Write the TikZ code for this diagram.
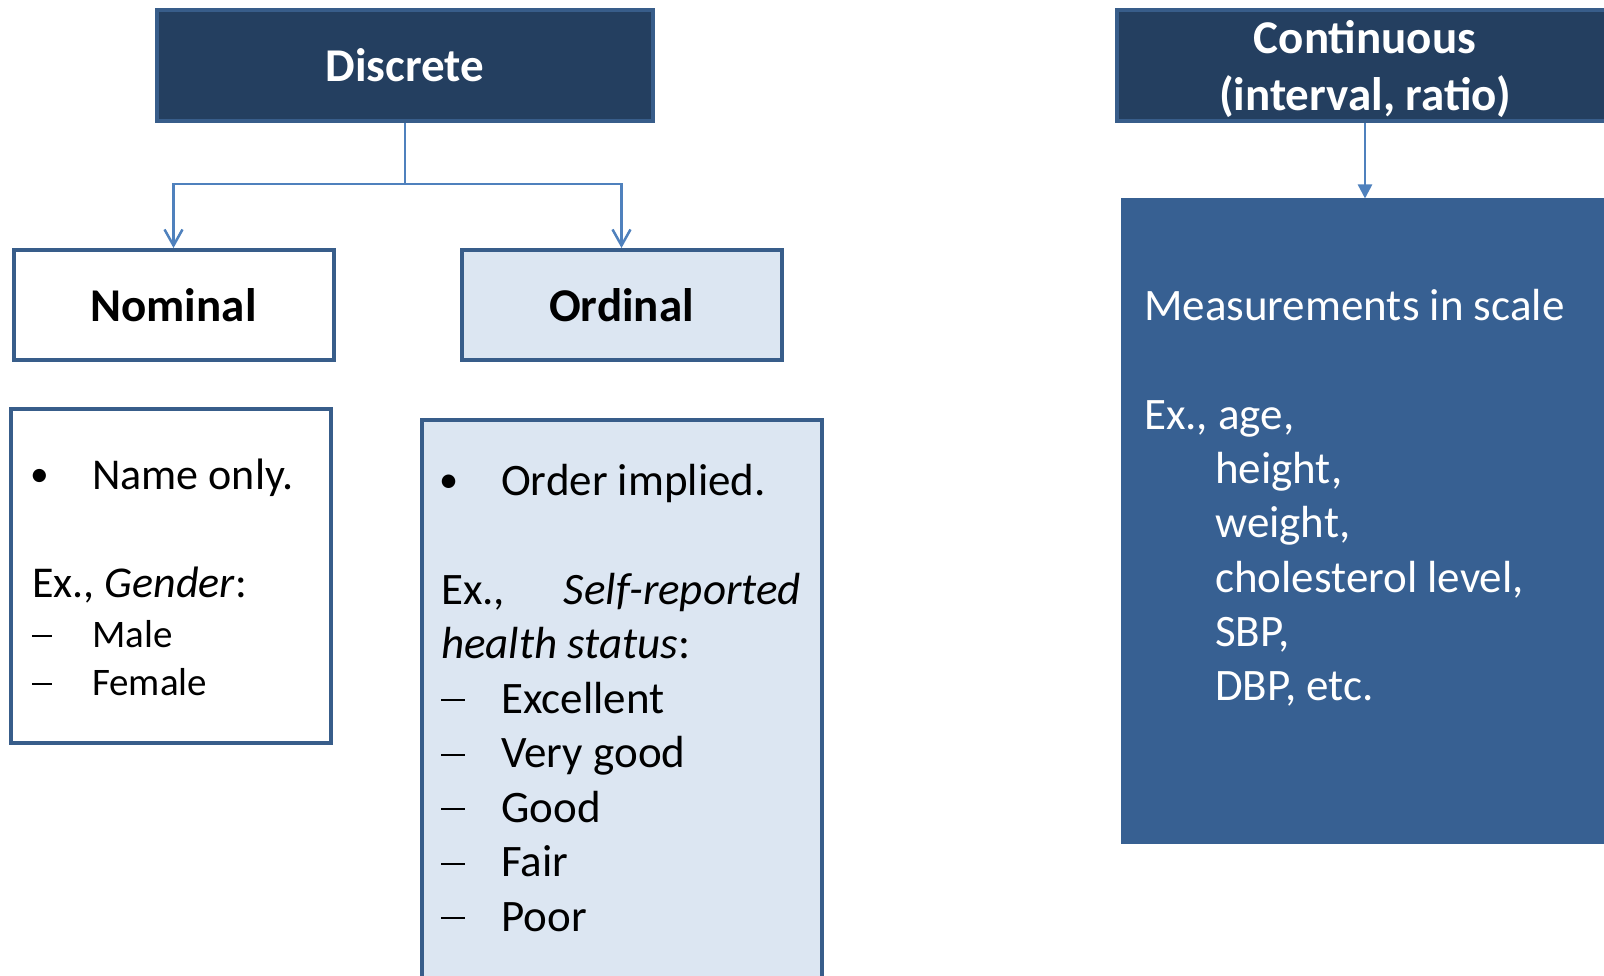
\documentclass[tikz,border=0pt]{standalone}
\usepackage{fontspec}
\setmainfont{Carlito}
\usetikzlibrary{arrows.meta}
\definecolor{navy}{HTML}{243F60}
\definecolor{edgeblue}{HTML}{385D8A}
\definecolor{pale}{HTML}{DCE6F2}
\definecolor{midblue}{HTML}{376092}
\definecolor{linkblue}{HTML}{4F81BD}
\newcommand\listdash{\rule[0.26em]{0.52em}{0.05em}}
\newcommand\listdot{\raisebox{0.06em}{\scalebox{0.85}{•}}}
\tikzset{
  box/.style={draw=edgeblue, line width=4pt, rectangle, inner sep=0pt},
  headtxt/.style={inner sep=0pt, font=\fontsize{47}{56}\selectfont\bfseries},
  ln/.style={anchor=base west, inner sep=0pt, font=\fontsize{45}{54}\selectfont},
  lnmid/.style={anchor=base west, inner sep=0pt, font=\fontsize{44}{53}\selectfont},
  lnsmall/.style={anchor=base west, inner sep=0pt, font=\fontsize{39}{48}\selectfont},
  linkline/.style={draw=linkblue, line width=2.5pt},
}
\begin{document}
\begin{tikzpicture}[x=1pt,y=-1pt]
\useasboundingbox (0,0) rectangle (1604,976);
\clip (0,0) rectangle (1604,976);
% boxes
\node[box, fill=navy, minimum width=496pt, minimum height=111pt] (disc) at (405,65.5) {};
\node[box, fill=navy, minimum width=496pt, minimum height=111pt] (cont) at (1365,65.5) {};
\node[box, fill=white, minimum width=320pt, minimum height=110pt] (nom) at (173.5,305) {};
\node[box, fill=pale, minimum width=320pt, minimum height=110pt] (ord) at (621.5,305) {};
\node[box, fill=white, minimum width=320pt, minimum height=334pt] (nomd) at (171,576) {};
\node[box, fill=pale, minimum width=400pt, minimum height=580pt] (ordd) at (621.5,710) {};
\node[draw=midblue, fill=midblue, line width=1pt, rectangle, inner sep=0pt, minimum width=488pt, minimum height=644pt] (contd) at (1365,521) {};
% headings
\node[headtxt, text=white] (disct) at (disc.center) {Discrete};
\node[headtxt, text=white, anchor=base] (contt1) at (1365,54) {Continuous};
\node[headtxt, text=white, anchor=base] (contt2) at (1365,111) {(interval, ratio)};
\node[headtxt] (nomt) at (nom.center) {Nominal};
\node[headtxt] (ordt) at (ord.center) {Ordinal};
% connectors
\draw[linkline, -{Straight Barb[length=16pt,width=18pt,line width=2.5pt]}] (disc.south) -- ++(0,61) -| (nom.north);
\draw[linkline, -{Straight Barb[length=16pt,width=18pt,line width=2.5pt]}] (disc.south) -- ++(0,61) -| (ord.north);
\draw[linkline, -{Triangle[length=14pt,width=14pt]}] (cont.south) -- (contd.north);
% nominal description
\node[lnmid] (nb) at (30,489) {\listdot};
\node[lnmid] (n1) at (92,489) {Name only.};
\node[lnmid] (n2) at (32,597) {Ex., \textit{Gender}:};
\node[lnsmall] (nd1) at (32,647) {\listdash};
\node[lnsmall] (n3) at (92,647) {Male};
\node[lnsmall] (nd2) at (32,695) {\listdash};
\node[lnsmall] (n4) at (92,695) {Female};
% ordinal description
\node[ln] (ob) at (439,495) {\listdot};
\node[ln] (o1) at (501,495) {Order implied.};
\node[ln] (o2) at (441,604) {Ex.,};
\node[ln, anchor=base east] (o2b) at (801,604) {\textit{Self-reported}};
\node[ln] (o3) at (441,658.5) {\textit{health status}:};
\node[ln] (od1) at (441,713) {\listdash};
\node[ln] (o4) at (501,713) {Excellent};
\node[ln] (od2) at (441,767.5) {\listdash};
\node[ln] (o5) at (501,767.5) {Very good};
\node[ln] (od3) at (441,822) {\listdash};
\node[ln] (o6) at (501,822) {Good};
\node[ln] (od4) at (441,876.5) {\listdash};
\node[ln] (o7) at (501,876.5) {Fair};
\node[ln] (od5) at (441,931) {\listdash};
\node[ln] (o8) at (501,931) {Poor};
% continuous description
\node[ln, text=white] (c1) at (1144,320) {Measurements in scale};
\node[ln, text=white] (c2) at (1144,429) {Ex., age,};
\node[ln, text=white] (c3) at (1215,483) {height,};
\node[ln, text=white] (c4) at (1215,537.5) {weight,};
\node[ln, text=white] (c5) at (1215,592) {cholesterol level,};
\node[ln, text=white] (c6) at (1215,646) {SBP,};
\node[ln, text=white] (c7) at (1215,700) {DBP, etc.};
\end{tikzpicture}
\end{document}
